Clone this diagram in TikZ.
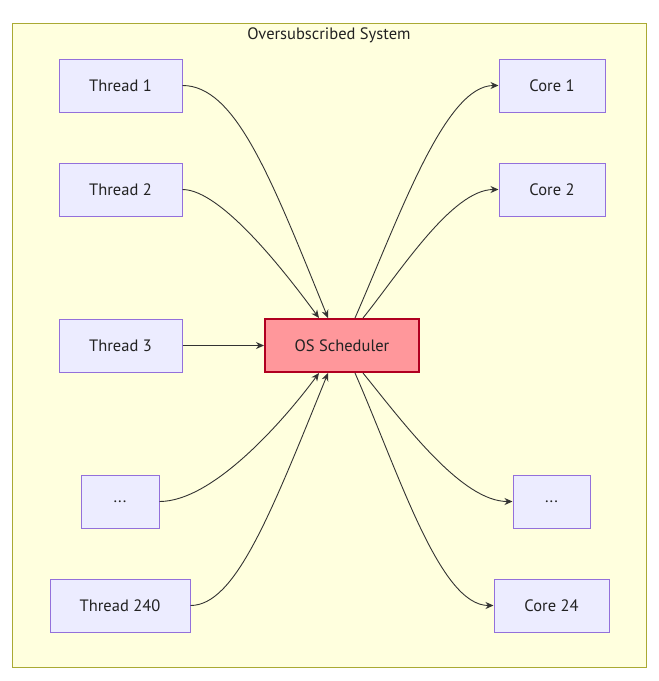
\documentclass[tikz,border=0pt]{standalone}
\usepackage{fontspec}
\setmainfont{PT Sans}
\usetikzlibrary{arrows.meta}
\definecolor{nodefill}{HTML}{ECECFF}
\definecolor{nodeline}{HTML}{9370DB}
\definecolor{clusterfill}{HTML}{FFFFDE}
\definecolor{clusterline}{HTML}{AAAA33}
\definecolor{schedfill}{HTML}{FF979B}
\definecolor{schedline}{HTML}{B00020}
\definecolor{edgecol}{HTML}{333333}
\definecolor{textcol}{HTML}{222222}
\tikzset{
  box/.style={draw=nodeline, fill=nodefill, line width=1pt, minimum height=53pt, inner sep=0pt, font=\fontsize{16.5}{19}\selectfont, text=textcol},
  sched/.style={draw=schedline, fill=schedfill, line width=2pt, minimum height=53pt, minimum width=154pt, inner sep=0pt, font=\fontsize{16.5}{19}\selectfont, text=textcol},
  link/.style={draw=edgecol, line width=0.9pt, -{Stealth[length=8pt,width=7pt]}}
}
\begin{document}
\begin{tikzpicture}[x=1pt,y=-1pt]
\useasboundingbox (0,0) rectangle (659,681);
\fill[white] (0,0) rectangle (659,681);
\draw[draw=clusterline, fill=clusterfill, line width=1pt] (12,23) rectangle (646,667);
\node[font=\fontsize{16.5}{19}\selectfont, text=textcol] (title) at (329,35) {Oversubscribed System};

\node[box, minimum width=123pt] (t1) at (120.5,85.5) {Thread 1};
\node[box, minimum width=123pt] (t2) at (120.5,189.5) {Thread 2};
\node[box, minimum width=123pt] (t3) at (120.5,345.5) {Thread 3};
\node[box, minimum width=78pt] (tdots) at (120,501.5) {...};
\node[box, minimum width=140pt] (t240) at (120,605.5) {Thread 240};

\node[sched] (os) at (342,345.5) {OS Scheduler};

\node[box, minimum width=106pt] (c1) at (552,85.5) {Core 1};
\node[box, minimum width=106pt] (c2) at (552,189.5) {Core 2};
\node[box, minimum width=77pt] (cdots) at (551.5,501.5) {...};
\node[box, minimum width=115pt] (c24) at (551.5,605.5) {Core 24};

\draw[link] (t1.east) .. controls (235,85.5) and (270,175) .. ([xshift=-14pt]os.north);
\draw[link] (t2.east) .. controls (222,189.5) and (288,276) .. ([xshift=-23pt]os.north);
\draw[link] (t3.east) -- (os.west);
\draw[link] (tdots.east) .. controls (215,501.5) and (288,415) .. ([xshift=-23pt]os.south);
\draw[link] (t240.east) .. controls (235,605.5) and (270,516) .. ([xshift=-14pt]os.south);

\draw[link] ([xshift=13pt]os.north) .. controls (400,215) and (445,85.5) .. (c1.west);
\draw[link] ([xshift=21pt]os.north) .. controls (400,272) and (452,189.5) .. (c2.west);
\draw[link] ([xshift=21pt]os.south) .. controls (405,425) and (462,501.5) .. (cdots.west);
\draw[link] ([xshift=13pt]os.south) .. controls (400,476) and (440,605.5) .. (c24.west);
\end{tikzpicture}
\end{document}
